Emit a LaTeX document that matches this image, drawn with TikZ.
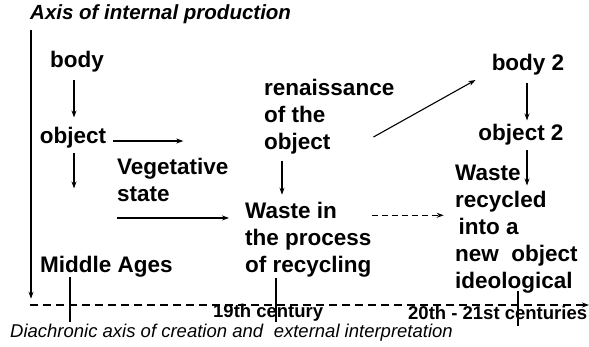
\documentclass[tikz,border=0pt]{standalone}
\usepackage{fontspec}
\setmainfont{Liberation Sans}
\usetikzlibrary{arrows.meta}
\tikzset{
  lbl/.style={inner sep=0pt, font=\fontsize{22.5}{27}\selectfont\bfseries, text depth=4.5pt, text height=16pt},
  multi/.style={inner sep=0pt, font=\fontsize{22.5}{27}\selectfont\bfseries, align=left},
  era/.style={inner sep=0pt, font=\fontsize{18.5}{22}\selectfont\bfseries},
  arr/.style={line width=1.1pt, -{Stealth[length=7pt,width=5pt]}},
  darr/.style={line width=1.1pt, dash pattern=on 6pt off 4pt, -{Stealth[length=7pt,width=5pt]}},
  tick/.style={line width=1.1pt},
}
\begin{document}
\begin{tikzpicture}[x=1pt,y=-1pt]
\useasboundingbox (0,0) rectangle (589,346);
% texts
\node[inner sep=0pt, anchor=west, font=\fontsize{20.5}{24}\selectfont\bfseries\itshape, text depth=4pt, text height=15pt] (title) at (30,14) {Axis of internal production};
\node[lbl] (body) at (77,62) {body};
\node[lbl] (object) at (73,138) {object};
\node[multi, anchor=west] (veg) at (117,180) {Vegetative\\state};
\node[lbl, anchor=west] (mid) at (40,267) {Middle Ages};
\node[multi, anchor=west] (ren) at (264,117) {renaissance\\of the\\object};
\node[multi, anchor=west] (waste) at (245,240) {Waste in\\the process\\of recycling};
\node[lbl] (body2) at (528,65) {body 2};
\node[lbl] (object2) at (521,135) {object 2};
\node[multi, anchor=west] (waste2) at (455,229) {Waste\\recycled\\\hspace{0.15em}into a\\new\hspace{0.55em}object\\ideological};
\node[era, anchor=west] (c19) at (213,313) {19th century};
\node[era, anchor=west] (c20) at (408,313) {20th - 21st centuries};
\node[inner sep=0pt, anchor=west, font=\fontsize{18.5}{22}\selectfont\itshape] (diach) at (10,333) {Diachronic axis of creation and\hspace{0.3em} external interpretation};
% axes
\coordinate (h0) at (30,305);
\coordinate (h1) at (589,305);
\draw[arr] (title.south west) ++(1,6) -- ++(0,269);
\draw[darr, dash pattern=on 8pt off 5pt] (h0) -- (h1);
% connectors
\draw[arr] (body.south) ++(-3,8) -- ++(0,37);
\draw[arr] (object.east) ++(7,3) -- ++(70,0);
\draw[arr] (object.south) ++(1,5) -- ++(0,35);
\draw[arr] (veg.south west) ++(0,16) -- ++(112,0);
\draw[arr] (ren.south west) ++(18,6) -- ++(0,34);
\draw[arr] (ren.east) ++(-21,20) -- ++(102,-57);
\draw[darr] (waste.north east) ++(0,13) -- ++(72,0);
\draw[arr] (body2.south) ++(-1,8) -- ++(0,37);
\draw[arr] (object2.south) ++(6,5) -- ++(0,35);
% ticks
\draw[tick] (mid.south west) ++(30,0) -- ++(0,45);
\draw[tick] (waste.south west) ++(31,0) -- ++(0,44);
\draw[tick] (waste2.south west) ++(63,-2) -- ++(0,35);
\end{tikzpicture}
\end{document}
